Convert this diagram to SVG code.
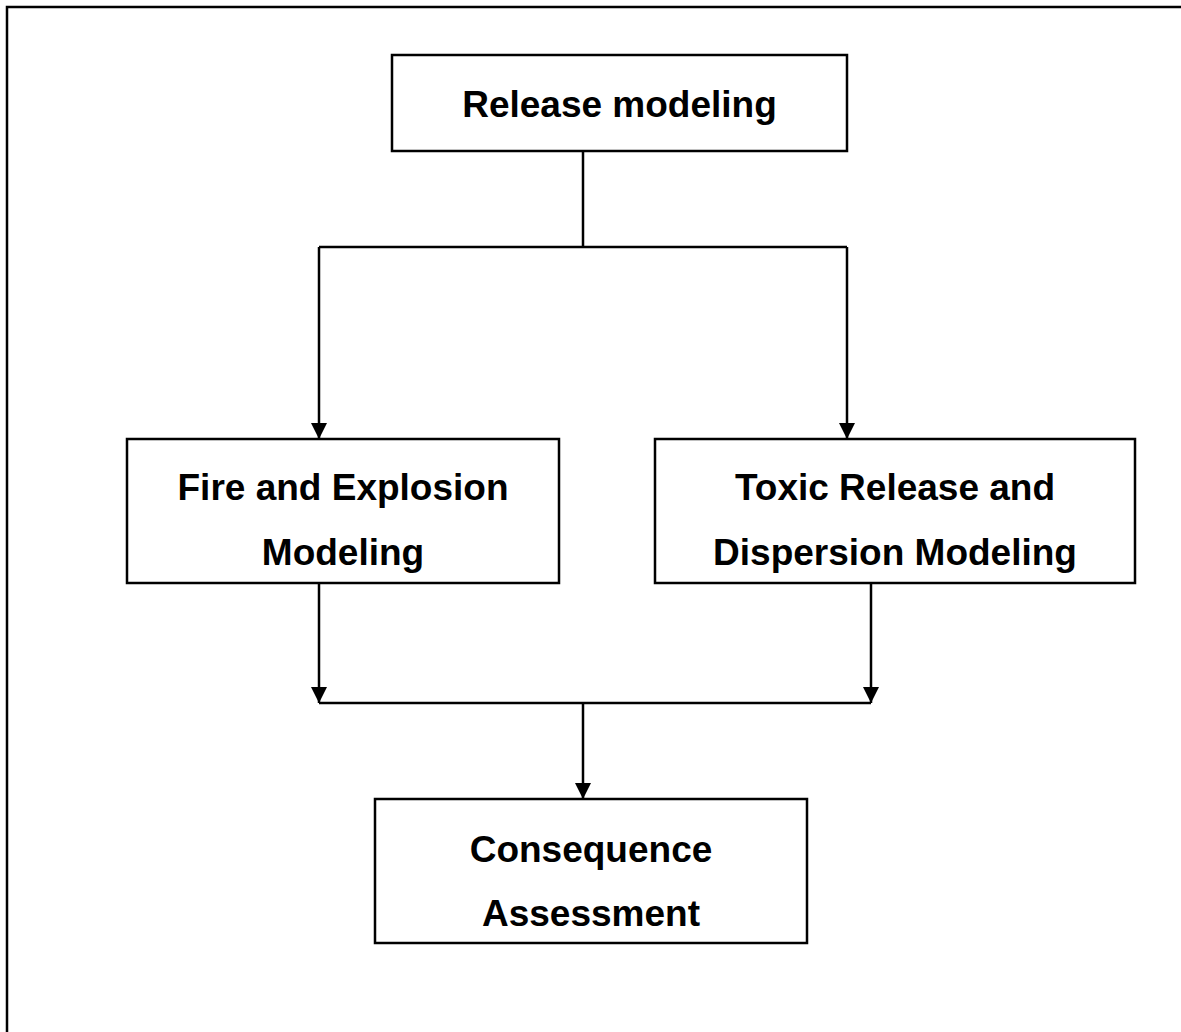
<svg xmlns="http://www.w3.org/2000/svg" width="1181" height="1032" viewBox="0 0 1181 1032">
<style>
.box{fill:#fff;stroke:#000;stroke-width:2.5}
.ln{fill:none;stroke:#000;stroke-width:2.5}
.t{font-family:"Liberation Sans",Arial,sans-serif;font-weight:bold;font-size:37px;fill:#000;text-anchor:middle}
</style>
<defs>
<marker id="ah" markerUnits="userSpaceOnUse" markerWidth="16" markerHeight="16" viewBox="0 0 16 16" refX="16" refY="8" orient="auto">
<path d="M0,0 L16,8 L0,16 z" fill="#000"/>
</marker>
</defs>
<rect width="1181" height="1032" fill="#fff"/>
<path class="ln" d="M7,1032 V7 H1181"/>
<g id="connectors">
<path class="ln" d="M583,151 V247"/>
<path class="ln" d="M319,247 H847"/>
<path class="ln" d="M319,247 V439" marker-end="url(#ah)"/>
<path class="ln" d="M847,247 V439" marker-end="url(#ah)"/>
<path class="ln" d="M319,583 V703" marker-end="url(#ah)"/>
<path class="ln" d="M871,583 V703" marker-end="url(#ah)"/>
<path class="ln" d="M319,703 H871"/>
<path class="ln" d="M583,703 V799" marker-end="url(#ah)"/>
</g>
<g id="release">
<rect class="box" x="392" y="55" width="455" height="96"/>
<text class="t" x="619.5" y="117">Release modeling</text>
</g>
<g id="fire">
<rect class="box" x="127" y="439" width="432" height="144"/>
<text class="t" x="343" y="500">Fire and Explosion</text>
<text class="t" x="343" y="565">Modeling</text>
</g>
<g id="toxic">
<rect class="box" x="655" y="439" width="480" height="144"/>
<text class="t" x="895" y="500">Toxic Release and</text>
<text class="t" x="895" y="565">Dispersion Modeling</text>
</g>
<g id="consequence">
<rect class="box" x="375" y="799" width="432" height="144"/>
<text class="t" x="591" y="862">Consequence</text>
<text class="t" x="591" y="926">Assessment</text>
</g>
</svg>
